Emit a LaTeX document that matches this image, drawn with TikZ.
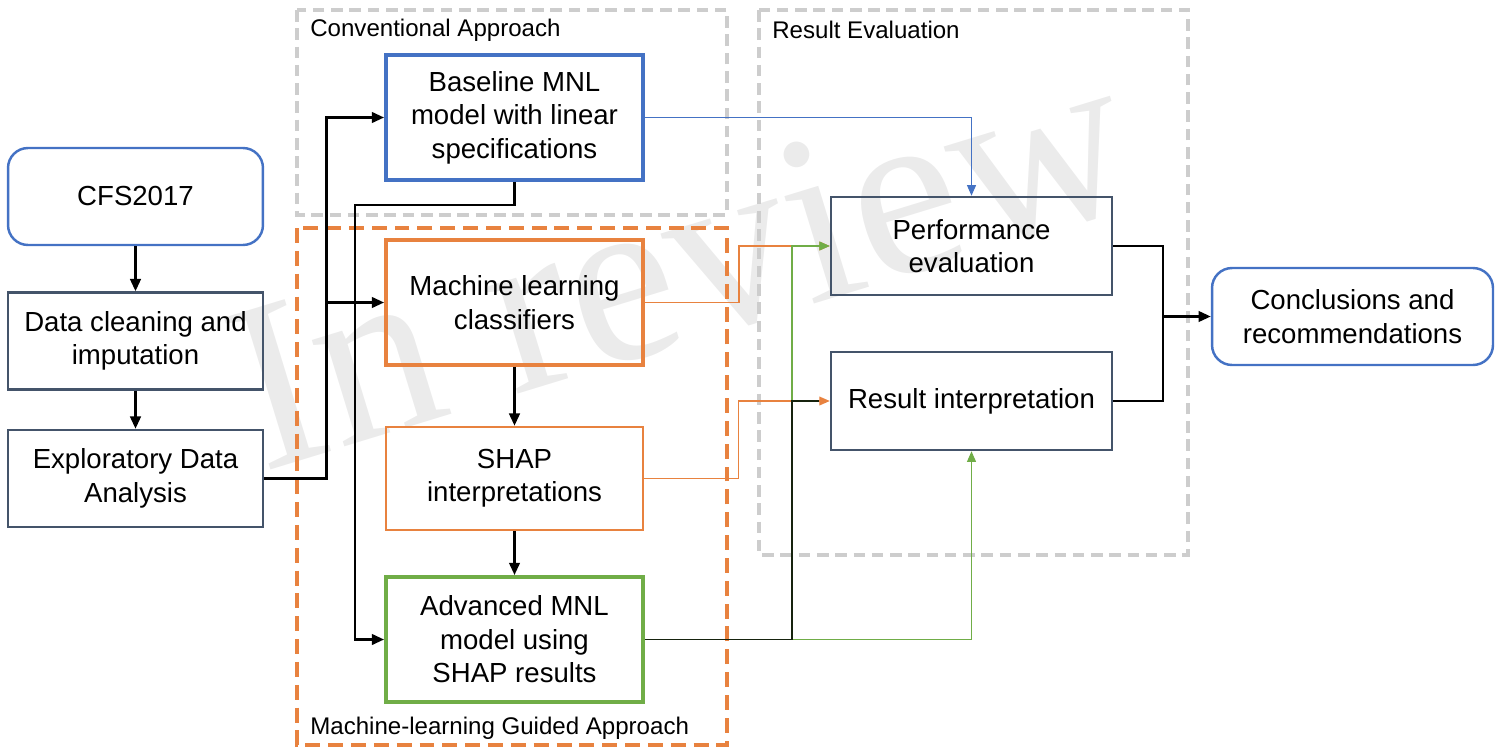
\documentclass[tikz,border=0pt]{standalone}
\usepackage{fontspec}
\setmainfont{Liberation Sans}
\newfontfamily\wmfont{Liberation Serif}
\usetikzlibrary{arrows.meta}
\definecolor{mblue}{HTML}{4472C4}
\definecolor{morange}{HTML}{E8823F}
\definecolor{mgreen}{HTML}{70AD47}
\definecolor{slate}{HTML}{44546A}
\definecolor{dgray}{HTML}{CDCDCD}
\definecolor{wmgray}{HTML}{EBEBEB}

\begin{document}
\begin{tikzpicture}[x=0.02cm,y=-0.02cm,
  box/.style={draw=slate,line width=1.4pt,align=center,inner sep=0pt,
    font=\fontsize{15.7}{19}\selectfont},
  leftbox/.style={box,minimum width=5.1cm,minimum height=1.94cm},
  midbox/.style={box,minimum width=5.14cm,minimum height=2.5cm,line width=2.2pt},
  rightbox/.style={box,minimum width=5.62cm,minimum height=1.96cm},
  area/.style={line width=1.9pt,dash pattern=on 6.6pt off 3.8pt},
  arealabel/.style={anchor=west,inner sep=0pt,font=\fontsize{13.7}{16}\selectfont},
  blk/.style={line width=1.5pt,-{Triangle[length=7pt,width=6pt]}},
  thin/.style={line width=0.8pt,-{Triangle[length=6pt,width=5pt]}}]
\useasboundingbox (0,0) rectangle (1504,750);

% watermark
\node[rotate=17,text=wmgray,inner sep=0pt,font=\wmfont\fontsize{138}{138}\selectfont] (wm) at (680,262) {In review};

% dashed areas
\draw[area,dgray] (297,10) rectangle (727,215);
\draw[area,dgray] (759,10) rectangle (1188,555);
\draw[area,morange,dash pattern=on 8.5pt off 4.5pt] (297,228) rectangle (727,745);
\node[arealabel] (convlbl) at (310,30) {Conventional Approach};
\node[arealabel] (evallbl) at (772,30) {Result Evaluation};
\node[arealabel] (mllbl) at (310,728) {Machine-learning Guided Approach};

% left column
\node[leftbox,draw=mblue,rounded corners=0.4cm] (cfs) at (135.5,196.5) {CFS2017};
\node[leftbox] (clean) at (135.5,341) {Data cleaning and\\imputation};
\node[leftbox] (eda) at (135.5,478.5) {Exploratory Data\\Analysis};

% middle column
\node[midbox,draw=mblue] (base) at (514.5,117.5) {Baseline MNL\\model with linear\\specifications};
\node[midbox,draw=morange] (ml) at (514.5,302.5) {Machine learning\\classifiers};
\node[box,draw=morange,minimum width=5.14cm,minimum height=2.06cm] (shap) at (514.5,478.5) {SHAP\\interpretations};
\node[midbox,draw=mgreen] (adv) at (514.5,639.5) {Advanced MNL\\model using\\SHAP results};

% right column
\node[rightbox] (perf) at (971.5,246) {Performance\\evaluation};
\node[rightbox] (res) at (971.5,401) {Result interpretation};
\node[rightbox,draw=mblue,rounded corners=0.4cm,minimum height=1.94cm] (conc) at (1352.5,316.5) {Conclusions and\\recommendations};

% coordinates for the bends
\path (eda.east) ++(62,0) coordinate (split);
\coordinate (drop) at (355,205);
\path (adv.east) ++(147,0) coordinate (gsplit);
\coordinate (join) at (1163,316.5);

% connectors
\draw[blk] (cfs) -- (clean);
\draw[blk] (clean) -- (eda);
\draw[blk] (eda.east) -- (split) |- (base.west);
\draw[blk] (split) |- (ml.west);
\draw[blk] (base.south) |- (drop) |- (adv.west);
\draw[blk] (ml) -- (shap);
\draw[blk] (shap) -- (adv);
\draw[thin,mblue] (base.east) -| (perf.north);
\draw[thin,morange] (ml.east) -- ++(94,0) |- (perf.west);
\draw[thin,morange] (shap.east) -- ++(94,0) |- (res.west);
\draw[thin,mgreen] (adv.east) -- (gsplit) |- (perf.west);
\draw[thin,mgreen] (adv.east) -| (res.south);
\draw[line width=1pt,black!80!mgreen,shorten >=6pt] (adv.east) -- (gsplit) |- (res.west);
\draw[line width=1.5pt] (perf.east) -| (join);
\draw[line width=1.5pt] (res.east) -| (join);
\draw[blk] (join) -- (conc.west);
\end{tikzpicture}
\end{document}
